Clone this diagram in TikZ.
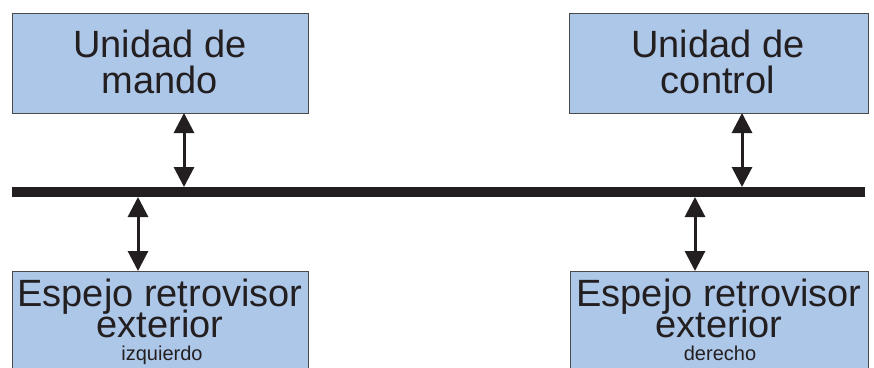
\documentclass[tikz,border=0pt]{standalone}
\usepackage{fontspec}
\setmainfont{Liberation Sans}
\usetikzlibrary{arrows.meta}
\definecolor{boxblue}{HTML}{ADC7E9}
\definecolor{ink}{HTML}{231F20}
\definecolor{edge}{HTML}{4A4A4A}
\begin{document}
\begin{tikzpicture}[x=1pt,y=-1pt,
  unit/.style={draw=edge,line width=0.9pt,fill=boxblue,inner sep=0pt},
  bigtxt/.style={text=ink,inner sep=0pt,anchor=base,font=\fontsize{38}{38}\selectfont},
  smalltxt/.style={text=ink,inner sep=0pt,anchor=base,font=\fontsize{20}{20}\selectfont},
  link/.style={draw=ink,line width=3pt,{Triangle[width=20pt,length=20pt]}-{Triangle[width=20pt,length=20pt]},shorten <=0pt,shorten >=0pt}]
\useasboundingbox (0,0) rectangle (874,367);
\clip (0,0) rectangle (874,367);
% boxes
\path[unit] (12,13) rectangle (308,113) node[pos=0.5,inner sep=0pt] (mando) {};
\path[unit] (569,13) rectangle (868,113) node[pos=0.5,inner sep=0pt] (control) {};
\path[unit] (12,271) rectangle (308,390) node[pos=0.5,inner sep=0pt] (izq) {};
\path[unit] (570,271) rectangle (868,390) node[pos=0.5,inner sep=0pt] (der) {};
% texts
\node[bigtxt] (t1a) at (160,57) {Unidad de};
\node[bigtxt] (t1b) at (160,93) {mando};
\node[bigtxt] (t2a) at (718,57) {Unidad de};
\node[bigtxt] (t2b) at (718,93) {control};
\node[bigtxt] (t3a) at (160,306) {Espejo retrovisor};
\node[bigtxt] (t3b) at (160,337) {exterior};
\node[smalltxt] (t3c) at (162,360) {izquierdo};
\node[bigtxt] (t4a) at (719,306) {Espejo retrovisor};
\node[bigtxt] (t4b) at (719,337) {exterior};
\node[smalltxt] (t4c) at (720,360) {derecho};
% bus
\coordinate (busL) at (12,192);
\coordinate (busR) at (865,192);
\draw[ink,line width=10pt] (busL) -- (busR);
% connectors
\coordinate (a1t) at (184,113);
\coordinate (a1b) at (184,187);
\coordinate (a2t) at (742,113);
\coordinate (a2b) at (742,187);
\coordinate (a3t) at (138,197);
\coordinate (a3b) at (138,271);
\coordinate (a4t) at (695,197);
\coordinate (a4b) at (695,271);
\draw[link] (a1t) -- (a1b);
\draw[link] (a2t) -- (a2b);
\draw[link] (a3t) -- (a3b);
\draw[link] (a4t) -- (a4b);
\end{tikzpicture}
\end{document}
